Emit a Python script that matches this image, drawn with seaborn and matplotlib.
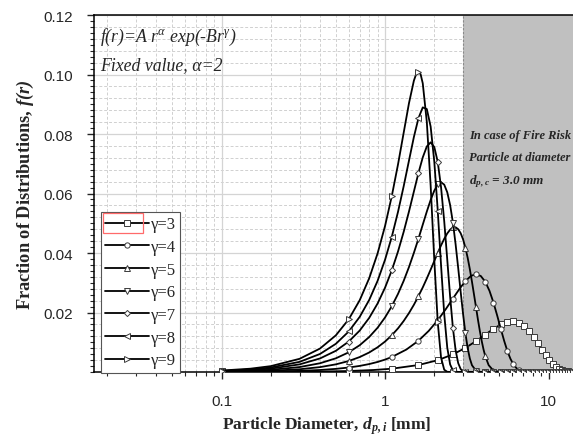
import matplotlib
matplotlib.use("Agg")
import matplotlib.pyplot as plt
import seaborn as sns
import numpy as np
from matplotlib.ticker import MultipleLocator, LogLocator, NullFormatter
from matplotlib.patches import Rectangle

# ---------------- data ----------------
labels = ["γ=3", "γ=4", "γ=5", "γ=6", "γ=7", "γ=8", "γ=9"]
marker_styles = ["s", "o", "^", "v", "D", "<", ">"]

tail_x = [3.1, 3.6, 4.1, 4.6, 5.1, 5.6, 6.1, 6.6, 7.1, 7.6, 8.1, 8.6, 9.1, 9.6,
          10.1, 10.6, 11.1, 11.6, 12.1, 12.6, 13.1, 13.6, 14.1]
tail_y = [0.0, 0.0, 0.0, 0.0, 0.0, 0.0, 0.0, 0.0, 0.0, 0.0, 0.0, 0.0, 0.0, 0.0,
          0.0, 0.0, 0.0, 0.0, 0.0, 0.0, 0.0, 0.0, 0.0]

x_g3 = [0.1, 0.35, 0.6, 0.85, 1.1, 1.6, 2.1, 2.6] + tail_x
y_g3 = [0.00001, 0.00011, 0.00033, 0.00067, 0.00111, 0.00234, 0.00397, 0.00592,
        0.00811, 0.01038, 0.01257, 0.0145, 0.01598, 0.01687, 0.01709, 0.01659,
        0.01545, 0.01379, 0.01177, 0.00961, 0.0075, 0.0057, 0.0040, 0.0027,
        0.0018, 0.0011, 0.0007, 0.0004, 0.0002, 0.0001, 0.00005]

x_g4 = [0.1, 0.2, 0.3, 0.4, 0.5, 0.6, 0.7, 0.8, 0.9, 1.0, 1.1, 1.35, 1.6, 1.85,
        2.1, 2.35, 2.6, 2.85, 3.1, 3.35, 3.6, 3.85, 4.1, 4.35, 4.6, 4.85, 5.1,
        5.35, 5.6, 5.85, 6.1, 6.35, 6.6, 7.1, 7.6] + tail_x[10:]
y_g4 = [0.00004, 0.00017, 0.00038, 0.00067, 0.00105, 0.00151, 0.00205, 0.00267,
        0.00338, 0.00417, 0.00504, 0.00755, 0.0105, 0.01383, 0.0174, 0.02111,
        0.02469, 0.02793, 0.03055, 0.03229, 0.0329, 0.03226, 0.03034, 0.02728,
        0.02336, 0.01896, 0.01453, 0.01046, 0.0070, 0.00438, 0.00253, 0.00133,
        0.00064, 0.00011, 0.0] + tail_y[10:]

x_g5 = [0.1, 0.15, 0.2, 0.3, 0.4, 0.5, 0.6, 0.7, 0.8, 0.9, 1.0, 1.1, 1.2, 1.3,
        1.4, 1.5, 1.6, 1.7, 1.8, 1.9, 2.0, 2.1, 2.2, 2.3, 2.4, 2.5, 2.6, 2.7,
        2.8, 2.9, 3.0, 3.1, 3.2, 3.3, 3.4, 3.5, 3.6, 3.7, 3.8, 3.9, 4.0, 4.1,
        4.3, 4.6] + tail_x[4:]
y_g5 = [0.0001, 0.00023, 0.00041, 0.00092, 0.00164, 0.00257, 0.0037, 0.00503,
        0.00656, 0.00831, 0.01024, 0.01236, 0.01467, 0.01716, 0.0198, 0.02258,
        0.0255, 0.02843, 0.03143, 0.03441, 0.03731, 0.04005, 0.04257, 0.04477,
        0.04657, 0.04786, 0.04858, 0.04864, 0.048, 0.04665, 0.04456, 0.04176,
        0.03838, 0.03451, 0.03032, 0.02597, 0.0217, 0.01751, 0.01372, 0.01039,
        0.00758, 0.0053, 0.0023, 0.00045] + tail_y[4:]

x_g6 = [0.1, 0.15, 0.2, 0.3, 0.4, 0.5, 0.6, 0.7, 0.8, 0.9, 1.0, 1.1, 1.2, 1.3,
        1.4, 1.5, 1.6, 1.7, 1.8, 1.9, 2.0, 2.1, 2.2, 2.3, 2.4, 2.5, 2.6, 2.7,
        2.8, 2.9, 3.0, 3.1, 3.2, 3.3, 3.4, 3.6, 3.8] + tail_x[2:]
y_g6 = [0.00018, 0.00041, 0.00074, 0.00166, 0.00294, 0.0046, 0.00662, 0.00901,
        0.01177, 0.01488, 0.01835, 0.02214, 0.02626, 0.03065, 0.03527, 0.04003,
        0.0448, 0.04952, 0.05393, 0.05783, 0.06097, 0.06305, 0.0638, 0.06298,
        0.06042, 0.05609, 0.0502, 0.04293, 0.03497, 0.02692, 0.01942, 0.0130,
        0.00801, 0.0045, 0.00227, 0.0004, 0.00005] + tail_y[2:]

x_g7 = [0.1, 0.15, 0.2, 0.3, 0.4, 0.5, 0.6, 0.7, 0.8, 0.9, 1.0, 1.1, 1.2, 1.3,
        1.4, 1.5, 1.6, 1.7, 1.8, 1.9, 2.0, 2.1, 2.2, 2.3, 2.4, 2.5, 2.6, 2.7,
        2.8, 2.9, 3.0] + tail_x
y_g7 = [0.00028, 0.00064, 0.00114, 0.00256, 0.00455, 0.00712, 0.01025, 0.01394,
        0.0182, 0.02302, 0.02837, 0.0342, 0.04051, 0.04714, 0.05393, 0.06063,
        0.0669, 0.07213, 0.07581, 0.0772, 0.07561, 0.0706, 0.06206, 0.0507,
        0.03784, 0.02528, 0.01476, 0.00733, 0.00299, 0.00097, 0.00024] + tail_y

x_g8 = [0.1, 0.15, 0.2, 0.3, 0.4, 0.5, 0.6, 0.7, 0.8, 0.9, 1.0, 1.1, 1.2, 1.3,
        1.4, 1.5, 1.6, 1.7, 1.8, 1.9, 2.0, 2.1, 2.2, 2.3, 2.4, 2.5, 2.6,
        2.8] + tail_x
y_g8 = [0.00038, 0.00085, 0.00151, 0.00341, 0.00606, 0.00947, 0.01363, 0.01855,
        0.02423, 0.03063, 0.03776, 0.0455, 0.05384, 0.06247, 0.07104, 0.07896,
        0.0853, 0.08894, 0.0884, 0.08249, 0.07072, 0.0542, 0.03581, 0.01949,
        0.00825, 0.00253, 0.00051, 0.0] + tail_y

x_g9 = [0.1, 0.15, 0.2, 0.3, 0.4, 0.5, 0.6, 0.7, 0.8, 0.9, 1.0, 1.1, 1.2, 1.3,
        1.4, 1.5, 1.55, 1.6, 1.65, 1.7, 1.8, 1.9, 2.0, 2.1, 2.2, 2.3, 2.4,
        2.6] + tail_x
y_g9 = [0.00049, 0.00111, 0.00197, 0.00443, 0.00788, 0.01232, 0.01774, 0.02414,
        0.03153, 0.03986, 0.04911, 0.0592, 0.06978, 0.08047, 0.09033, 0.09791,
        0.10017, 0.101, 0.10006, 0.09704, 0.08406, 0.06265, 0.03763, 0.01665,
        0.00481, 0.00077, 0.00006, 0.0] + tail_y

series_x = [x_g3, x_g4, x_g5, x_g6, x_g7, x_g8, x_g9]
series_y = [y_g3, y_g4, y_g5, y_g6, y_g7, y_g8, y_g9]

x_ticks = [0.1, 1, 10]
x_tick_labels = ["0.1", "1", "10"]
y_ticks = [0.02, 0.04, 0.06, 0.08, 0.10, 0.12]
y_tick_labels = ["0.02", "0.04", "0.06", "0.08", "0.10", "0.12"]
risk_diameter = 3.0

# ---------------- style ----------------
sns.set_style("white")
plt.rcParams["font.family"] = ["Liberation Serif", "DejaVu Serif"]
plt.rcParams["mathtext.fontset"] = "custom"
plt.rcParams["mathtext.rm"] = "Liberation Serif"
plt.rcParams["mathtext.it"] = "Liberation Serif:italic"
plt.rcParams["mathtext.bf"] = "Liberation Serif:bold"
try:
    plt.rcParams["mathtext.bfit"] = "Liberation Serif:bold:italic"
    BFIT = r"\mathbfit"
except KeyError:
    BFIT = r"\mathbf"

W, H = 573, 439
fig = plt.figure(figsize=(W / 100, H / 100), dpi=100)
L, R, T, B = 94, 573, 16, 373
ax = fig.add_axes([L / W, 1 - B / H, (R - L) / W, (B - T) / H])

ax.set_xscale("log")
ax.set_xlim(0.0166, 14.1)
ax.set_ylim(0.0, 0.12)

# grid
ax.set_axisbelow(True)
ax.grid(which="major", axis="both", color="#d4d4d4", lw=0.9, ls="-", zorder=0)
ax.grid(which="minor", axis="x", color="#d0d0d0", lw=0.7, ls=(0, (3, 2)), zorder=0)
for yy in np.arange(0.004, 0.12, 0.004):
    if abs(yy / 0.02 - round(yy / 0.02)) > 1e-6:
        ax.axhline(yy, color="#d0d0d0", lw=0.7, ls=(0, (3, 2)), zorder=0)

# shaded risk region
ax.axvspan(risk_diameter, 100, color="#c0c0c0", zorder=1, lw=0)
ax.axvline(risk_diameter, color="#8a8a8a", lw=0.8, ls=(0, (2, 1.5)), zorder=1.1)

# curves
for xs, ys, lab, mk in zip(series_x, series_y, labels, marker_styles):
    mev = [i for i, v in enumerate(xs)
           if abs((v - 0.1) / 0.5 - round((v - 0.1) / 0.5)) < 1e-6]
    ms = 3.8 if mk != "D" else 3.1
    sns.lineplot(x=xs, y=ys, ax=ax, color="black", lw=1.3, label=lab,
                 estimator=None, sort=False, marker=mk, markevery=mev,
                 markersize=ms, markerfacecolor="white",
                 markeredgecolor="#3a3a3a", markeredgewidth=0.7, zorder=3)

# axes / ticks
for s in ["left", "bottom", "top"]:
    ax.spines[s].set_color("black")
    ax.spines[s].set_linewidth(1.1)
ax.spines["right"].set_visible(False)

ax.set_xticks(x_ticks)
ax.set_xticklabels(x_tick_labels)
ax.xaxis.set_minor_locator(LogLocator(base=10, subs=np.arange(2, 10)))
ax.xaxis.set_minor_formatter(NullFormatter())
ax.set_yticks(y_ticks)
ax.set_yticklabels(y_tick_labels)
ax.yaxis.set_minor_locator(MultipleLocator(0.002))
ax.tick_params(axis="x", which="major", direction="out", length=5, width=1,
               pad=11, labelsize=11, bottom=True, top=False)
ax.tick_params(axis="x", which="minor", direction="out", length=3, width=0.8,
               bottom=True, top=False)
ax.tick_params(axis="y", which="major", direction="out", length=5, width=1,
               pad=10, labelsize=11, left=True, right=False)
ax.tick_params(axis="y", which="minor", direction="out", length=3, width=0.8,
               left=True, right=False)
for t in ax.get_xticklabels() + ax.get_yticklabels():
    t.set_fontfamily(["Liberation Sans", "DejaVu Sans"])

ax.set_xlabel("")
ax.set_ylabel("")
fig.text(327 / W, 1 - 426 / H,
         r"Particle Diameter, $" + BFIT + r"{d}_{" + BFIT + r"{p,i}}$ [mm]",
         ha="center", va="center", fontsize=12.5, fontweight="bold")
fig.text(25 / W, 1 - 195 / H,
         r"Fraction of Distributions, $" + BFIT + r"{f(r)}$",
         ha="center", va="center", rotation=90, fontsize=13.2, fontweight="bold")

# annotations
fig.text(100 / W, 1 - 37 / H, r"f(r)=A r$^{\alpha}$ exp(-Br$^{\gamma}$)",
         ha="left", va="center", fontsize=12.8, fontstyle="italic")
fig.text(100 / W, 1 - 66 / H, "Fixed value, α=2",
         ha="left", va="center", fontsize=12.8, fontstyle="italic")
fig.text(469 / W, 1 - 136 / H, "In case of Fire Risk", ha="left", va="center",
         fontsize=9, fontweight="bold", fontstyle="italic")
fig.text(469 / W, 1 - 158 / H, "Particle at diameter", ha="left", va="center",
         fontsize=9, fontweight="bold", fontstyle="italic")
fig.text(469 / W, 1 - 182 / H,
         r"$" + BFIT + r"{d}_{" + BFIT + r"{p,c}}$ = 3.0 mm",
         ha="left", va="center", fontsize=9.5, fontweight="bold",
         fontstyle="italic")

# legend
leg = ax.legend(loc="upper left", bbox_to_anchor=(100.7 / W, 1 - 212.7 / H),
                bbox_transform=fig.transFigure, borderaxespad=0,
                frameon=True, fancybox=False, framealpha=1, edgecolor="#555555",
                handlelength=2.6, handletextpad=0.12,
                labelspacing=0.4, borderpad=0.28,
                prop={"family": ["Liberation Serif", "DejaVu Serif"], "size": 12})
leg.get_frame().set_linewidth(0.8)
leg.set_zorder(5)

fig.patches.append(Rectangle((102.7 / W, 1 - 234.3 / H), 40 / W, 20.3 / H,
                             transform=fig.transFigure, fill=False,
                             edgecolor="#ff6a6a", lw=0.9, zorder=10))

fig.savefig("out.png", dpi=100)
